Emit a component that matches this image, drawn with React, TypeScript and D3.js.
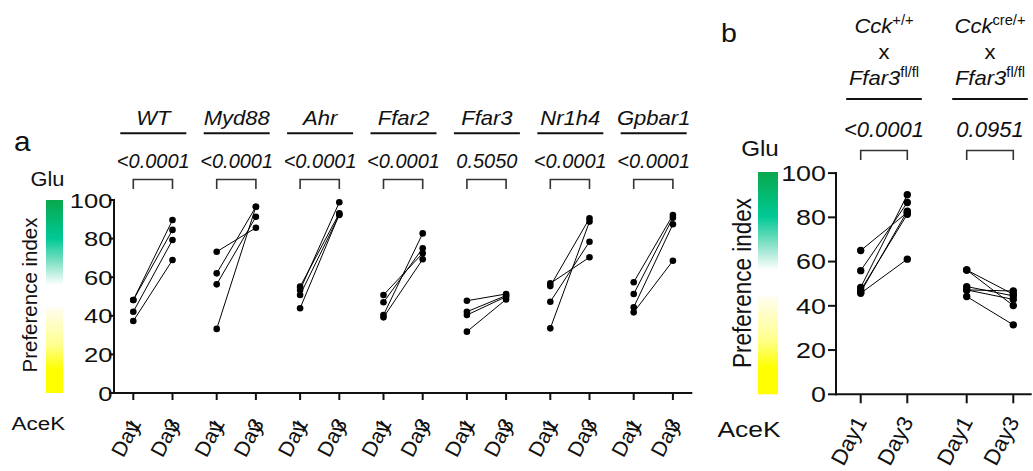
import React from 'react';
import * as d3 from 'd3';

// panel a
const groupsA = ['WT', 'Myd88', 'Ahr', 'Ffar2', 'Ffar3', 'Nr1h4', 'Gpbar1'];
const pValuesA = ['<0.0001', '<0.0001', '<0.0001', '<0.0001', '0.5050', '<0.0001', '<0.0001'];
const day1A = [
  [48.2, 48.2, 42.1, 37.3],
  [73.2, 62.0, 56.3, 33.2],
  [55.1, 53.4, 50.8, 43.9],
  [50.8, 47.0, 40.4, 39.2],
  [47.8, 42.1, 40.4, 31.8],
  [56.8, 55.4, 47.3, 33.5],
  [57.4, 51.3, 44.4, 41.8],
];
const day3A = [
  [89.6, 84.5, 79.3, 68.9],
  [85.6, 96.5, 91.3, 96.5],
  [93.1, 98.8, 92.2, 92.6],
  [72.4, 75.0, 82.7, 69.3],
  [51.3, 50.5, 49.9, 48.5],
  [70.3, 90.5, 78.4, 88.8],
  [92.2, 90.8, 87.4, 68.5],
];

// panel b
const genotypesB = ['+/+', 'cre/+'];
const pValuesB = ['<0.0001', '0.0951'];
const day1B = [
  [65.0, 55.9, 48.3, 47.0, 46.2, 45.7],
  [56.2, 56.2, 48.7, 47.2, 47.2, 44.2],
];
const day3B = [
  [82.2, 86.7, 90.2, 81.4, 82.8, 61.1],
  [45.2, 40.1, 44.5, 42.9, 46.7, 31.4],
];

const days = ['Day1', 'Day3'];
const yTicks = [0, 20, 40, 60, 80, 100];

const FONT = "'Liberation Sans', Arial, Helvetica, sans-serif";
const INK = '#111';

const tr = (x: number, y: number, sx = 1, rot = 0) =>
  `translate(${x},${y}) scale(${sx},1)` + (rot ? ` rotate(${rot})` : '');

function Grad({ id }: { id: string }) {
  return (
    <linearGradient id={id} x1="0" y1="0" x2="0" y2="1">
      <stop offset="0" stopColor="#08a84c" />
      <stop offset="0.2" stopColor="#00c995" />
      <stop offset="0.32" stopColor="#7fe0c4" />
      <stop offset="0.44" stopColor="#ffffff" />
      <stop offset="0.55" stopColor="#ffffff" />
      <stop offset="0.57" stopColor="#fffdea" />
      <stop offset="0.75" stopColor="#ffff90" />
      <stop offset="0.88" stopColor="#ffff00" />
      <stop offset="1" stopColor="#ffff00" />
    </linearGradient>
  );
}

export default function App() {
  // panel a scales
  const yA = d3.scaleLinear().domain([0, 100]).range([393, 200]);
  const xA = d3.scaleBand<string>().domain(groupsA).range([111.6, 695.4]);
  const dA = d3.scalePoint<string>().domain(days).range([21.7, 60.9]);
  const axA = 114;

  // panel b scales
  const yB = d3.scaleLinear().domain([0, 100]).range([394.3, 173.1]);
  const xB = d3.scaleBand<string>().domain(genotypesB).range([831, 1043]);
  const dB = d3.scalePoint<string>().domain(days).range([29.7, 76.3]);
  const axB = 836;

  const gxA = (g: string, d: string) => (xA(g) ?? 0) + (dA(d) ?? 0);
  const gxB = (g: string, d: string) => (xB(g) ?? 0) + (dB(d) ?? 0);

  return (
    <svg
      width={1033}
      height={471}
      style={{ position: 'absolute', left: 0, top: 0, background: '#fff' }}
      fontFamily={FONT}
    >
      <defs>
        <Grad id="gradA" />
        <Grad id="gradB" />
      </defs>
      <rect width={1033} height={471} fill="#fff" />

      {/* ---------- panel a ---------- */}
      <text transform={tr(14, 151, 1.1)} fontSize={27} fill={INK}>a</text>
      <text transform={tr(47.5, 185.7, 1.12)} fontSize={19.5} textAnchor="middle" fill={INK}>Glu</text>
      <text transform={tr(38.3, 430, 1.18)} fontSize={19} textAnchor="middle" fill={INK}>AceK</text>
      <rect x={46} y={yA(100)} width={17} height={yA(0) - yA(100)} fill="url(#gradA)" />
      <text
        transform={tr(29.5, 295, 1, -90)}
        fontSize={20.5}
        textAnchor="middle"
        dy="0.36em"
        fill={INK}
      >
        Preference index
      </text>

      {/* y axis */}
      <line x1={axA} x2={axA} y1={yA(100) - 1} y2={yA(0) + 1} stroke={INK} strokeWidth={2} />
      {yTicks.map(t => (
        <g key={'ta' + t}>
          <line x1={axA - 5} x2={axA} y1={yA(t)} y2={yA(t)} stroke={INK} strokeWidth={2} />
          <text transform={tr(axA - 1.5, yA(t), 1.22)} dy="0.36em" fontSize={21} textAnchor="end" fill={INK}>
            {t}
          </text>
        </g>
      ))}
      {/* x axis */}
      <line x1={axA - 1} x2={692.3} y1={yA(0)} y2={yA(0)} stroke={INK} strokeWidth={2} />

      {groupsA.map((g, gi) => {
        const c = (xA(g) ?? 0) + xA.bandwidth() / 2;
        const x1 = gxA(g, 'Day1');
        const x3 = gxA(g, 'Day3');
        return (
          <g key={g}>
            <text transform={tr(c, 125, 1.05)} fontSize={21} fontStyle="italic" textAnchor="middle" fill={INK}>
              {g}
            </text>
            <line x1={c - 33} x2={c + 33} y1={133.3} y2={133.3} stroke={INK} strokeWidth={2} />
            <text x={c} y={168.3} fontSize={20} fontStyle="italic" textAnchor="middle" fill={INK}>
              {pValuesA[gi]}
            </text>
            <path d={`M${x1},189V179.5H${x3}V189`} fill="none" stroke="#333" strokeWidth={1.6} />
            {days.map(d => {
              const tx = gxA(g, d);
              return (
                <g key={d}>
                  <line x1={tx} x2={tx} y1={yA(0)} y2={yA(0) + 7} stroke={INK} strokeWidth={2} />
                  <text
                    transform={tr(tx + 2, 420, 1, -62)}
                    fontSize={21}
                    textAnchor="end"
                    dy="0.35em"
                    fill={INK}
                  >
                    Day<tspan dx="-0.45em">{d.slice(3)}</tspan>
                  </text>
                </g>
              );
            })}
            {day1A[gi].map((v, j) => (
              <line key={'l' + j} x1={x1} y1={yA(v)} x2={x3} y2={yA(day3A[gi][j])} stroke="#000" strokeWidth={1} />
            ))}
            {day1A[gi].map((v, j) => (
              <circle key={'a' + j} cx={x1} cy={yA(v)} r={3.3} fill="#000" />
            ))}
            {day3A[gi].map((v, j) => (
              <circle key={'b' + j} cx={x3} cy={yA(v)} r={3.3} fill="#000" />
            ))}
          </g>
        );
      })}

      {/* ---------- panel b ---------- */}
      <text transform={tr(721, 42, 1.1)} fontSize={26} fill={INK}>b</text>
      <text transform={tr(760, 156, 1.1)} fontSize={22} textAnchor="middle" fill={INK}>Glu</text>
      <text transform={tr(749, 436.7, 1.2)} fontSize={22} textAnchor="middle" fill={INK}>AceK</text>
      <rect x={758} y={172} width={20} height={yB(0) - 172} fill="url(#gradB)" />
      <text
        transform={tr(741.7, 283, 1.15, -90)}
        fontSize={22.5}
        textAnchor="middle"
        dy="0.36em"
        fill={INK}
      >
        Preference index
      </text>

      <line x1={axB} x2={axB} y1={yB(100) - 1} y2={yB(0) + 1} stroke={INK} strokeWidth={2} />
      {yTicks.map(t => (
        <g key={'tb' + t}>
          <line x1={axB - 8} x2={axB} y1={yB(t)} y2={yB(t)} stroke={INK} strokeWidth={2} />
          <text transform={tr(axB - 10, yB(t), 1.25)} dy="0.36em" fontSize={21.5} textAnchor="end" fill={INK}>
            {t}
          </text>
        </g>
      ))}
      <line x1={axB - 1} x2={1031.7} y1={yB(0)} y2={yB(0)} stroke={INK} strokeWidth={2} />

      {genotypesB.map((g, gi) => {
        const c = (xB(g) ?? 0) + xB.bandwidth() / 2;
        const x1 = gxB(g, 'Day1');
        const x3 = gxB(g, 'Day3');
        return (
          <g key={g}>
            <text transform={tr(c, 33, 1.05)} fontSize={21} textAnchor="middle" fill={INK}>
              <tspan fontStyle="italic">Cck</tspan>
              <tspan fontSize={14} dy={-8}>{g}</tspan>
            </text>
            <text transform={tr(c, 59.3, 1.05)} fontSize={21} textAnchor="middle" fill={INK}>x</text>
            <text transform={tr(c, 85, 1.05)} fontSize={21} textAnchor="middle" fill={INK}>
              <tspan fontStyle="italic">Ffar3</tspan>
              <tspan fontSize={14} dy={-8}>fl/fl</tspan>
            </text>
            <line x1={c - 37.8} x2={c + 37.8} y1={99} y2={99} stroke={INK} strokeWidth={2} />
            <text x={c} y={137.3} fontSize={22} fontStyle="italic" textAnchor="middle" fill={INK}>
              {pValuesB[gi]}
            </text>
            <path d={`M${x1},160V150.5H${x3}V160`} fill="none" stroke="#333" strokeWidth={1.6} />
            {days.map(d => {
              const tx = gxB(g, d);
              return (
                <g key={d}>
                  <line x1={tx} x2={tx} y1={yB(0)} y2={yB(0) + 9} stroke={INK} strokeWidth={2} />
                  <text
                    transform={tr(tx, 418, 1, -62)}
                    fontSize={22}
                    textAnchor="end"
                    dy="0.35em"
                    fill={INK}
                  >
                    {d}
                  </text>
                </g>
              );
            })}
            {day1B[gi].map((v, j) => (
              <line key={'l' + j} x1={x1} y1={yB(v)} x2={x3} y2={yB(day3B[gi][j])} stroke="#000" strokeWidth={1} />
            ))}
            {day1B[gi].map((v, j) => (
              <circle key={'a' + j} cx={x1} cy={yB(v)} r={3.7} fill="#000" />
            ))}
            {day3B[gi].map((v, j) => (
              <circle key={'b' + j} cx={x3} cy={yB(v)} r={3.7} fill="#000" />
            ))}
          </g>
        );
      })}
    </svg>
  );
}
